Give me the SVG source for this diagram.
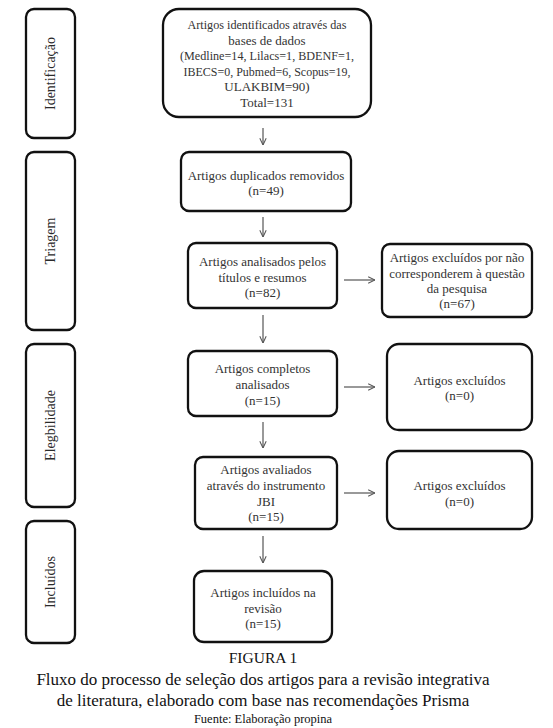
<svg xmlns="http://www.w3.org/2000/svg" width="553" height="728" viewBox="0 0 553 728">
<style>
.box{fill:#fff;stroke:#111;stroke-width:2.3}
.t{font-family:'Liberation Serif','Tinos','Times New Roman','DejaVu Serif',serif;font-size:13px;fill:#333;text-anchor:middle}
.ph{font-family:'Liberation Serif','Tinos','Times New Roman','DejaVu Serif',serif;font-size:14px;fill:#2a2a2a;text-anchor:middle}
.cap{font-family:'Liberation Serif','Tinos','Times New Roman','DejaVu Serif',serif;fill:#111;text-anchor:middle}
.con{stroke:#555;stroke-width:1.2;fill:none}
</style>
<defs>
<marker id="arr" viewBox="0 0 10 10" refX="9.5" refY="5" markerWidth="8" markerHeight="8" markerUnits="userSpaceOnUse" orient="auto">
<path d="M1,1 L9.5,5 L1,9" fill="none" stroke="#555" stroke-width="1.3"/>
</marker>
</defs>
<rect width="553" height="728" fill="#fff"/>
<g id="phase-identificacao">
<rect class="box" x="26" y="9" width="49" height="129" rx="8"/>
<text class="ph" transform="translate(55,73.5) rotate(-90)">Identificação</text>
</g>
<g id="phase-triagem">
<rect class="box" x="26" y="152" width="49" height="178" rx="8"/>
<text class="ph" transform="translate(55,241) rotate(-90)">Triagem</text>
</g>
<g id="phase-elegibilidade">
<rect class="box" x="26" y="344" width="49" height="163" rx="8"/>
<text class="ph" transform="translate(55,425.5) rotate(-90)">Elegbilidade</text>
</g>
<g id="phase-incluidos">
<rect class="box" x="26" y="521" width="49" height="122" rx="8"/>
<text class="ph" transform="translate(55,582) rotate(-90)">Incluídos</text>
</g>
<g id="n-identificados">
<rect class="box" x="163" y="9" width="208" height="108" rx="16"/>
<text class="t" x="267" y="29" textLength="159" lengthAdjust="spacingAndGlyphs">Artigos identificados através das</text>
<text class="t" x="267" y="44.7">bases de dados</text>
<text class="t" x="267" y="60" textLength="174" lengthAdjust="spacingAndGlyphs">(Medline=14, Lilacs=1, BDENF=1,</text>
<text class="t" x="267" y="75.7" textLength="167" lengthAdjust="spacingAndGlyphs">IBECS=0, Pubmed=6, Scopus=19,</text>
<text class="t" x="267" y="91">ULAKBIM=90)</text>
<text class="t" x="267" y="106.7">Total=131</text>
</g>
<g id="n-duplicados">
<rect class="box" x="181" y="152" width="170" height="59" rx="8"/>
<text class="t" x="266" y="180">Artigos duplicados removidos</text>
<text class="t" x="266" y="195">(n=49)</text>
</g>
<g id="n-analisados">
<rect class="box" x="188" y="243" width="149" height="65" rx="8"/>
<text class="t" x="262.5" y="266">Artigos analisados pelos</text>
<text class="t" x="262.5" y="281.5">títulos e resumos</text>
<text class="t" x="262.5" y="297">(n=82)</text>
</g>
<g id="n-excluidos-1">
<rect class="box" x="382" y="244" width="150" height="73" rx="8"/>
<text class="t" x="457" y="262">Artigos excluídos por não</text>
<text class="t" x="457" y="277.5">corresponderem à questão</text>
<text class="t" x="457" y="293">da pesquisa</text>
<text class="t" x="457" y="308">(n=67)</text>
</g>
<g id="n-completos">
<rect class="box" x="188" y="351" width="149" height="65" rx="8"/>
<text class="t" x="262.5" y="372.5">Artigos completos</text>
<text class="t" x="262.5" y="388.5">analisados</text>
<text class="t" x="262.5" y="404.5">(n=15)</text>
</g>
<g id="n-excluidos-2">
<rect class="box" x="387" y="344" width="145" height="86" rx="12"/>
<text class="t" x="459.5" y="385">Artigos excluídos</text>
<text class="t" x="459.5" y="400">(n=0)</text>
</g>
<g id="n-avaliados">
<rect class="box" x="195" y="457" width="142" height="72" rx="8"/>
<text class="t" x="266" y="474">Artigos avaliados</text>
<text class="t" x="266" y="490">através do instrumento</text>
<text class="t" x="266" y="505.5">JBI</text>
<text class="t" x="266" y="521">(n=15)</text>
</g>
<g id="n-excluidos-3">
<rect class="box" x="387" y="451" width="145" height="78" rx="12"/>
<text class="t" x="459.5" y="490">Artigos excluídos</text>
<text class="t" x="459.5" y="506">(n=0)</text>
</g>
<g id="n-incluidos">
<rect class="box" x="194" y="571" width="138" height="71" rx="10"/>
<text class="t" x="263" y="597">Artigos incluídos na</text>
<text class="t" x="263" y="612.5">revisão</text>
<text class="t" x="263" y="627.5">(n=15)</text>
</g>
<g id="connectors">
<line class="con" x1="263" y1="128" x2="263" y2="145" marker-end="url(#arr)"/>
<line class="con" x1="263" y1="217" x2="263" y2="237" marker-end="url(#arr)"/>
<line class="con" x1="263" y1="315" x2="263" y2="343" marker-end="url(#arr)"/>
<line class="con" x1="263" y1="422" x2="263" y2="448" marker-end="url(#arr)"/>
<line class="con" x1="263" y1="536" x2="263" y2="563" marker-end="url(#arr)"/>
<line class="con" x1="344" y1="280" x2="375" y2="280" marker-end="url(#arr)"/>
<line class="con" x1="344" y1="387" x2="375" y2="387" marker-end="url(#arr)"/>
<line class="con" x1="344" y1="493" x2="375" y2="493" marker-end="url(#arr)"/>
</g>
<g id="caption">
<text class="cap" x="263" y="663" font-size="15.5">FIGURA 1</text>
<text class="cap" x="263" y="685" font-size="17">Fluxo do processo de seleção dos artigos para a revisão integrativa</text>
<text class="cap" x="263" y="706" font-size="17">de literatura, elaborado com base nas recomendações Prisma</text>
<text class="cap" x="263" y="723" font-size="12.5">Fuente: Elaboração propina</text>
</g>
</svg>
